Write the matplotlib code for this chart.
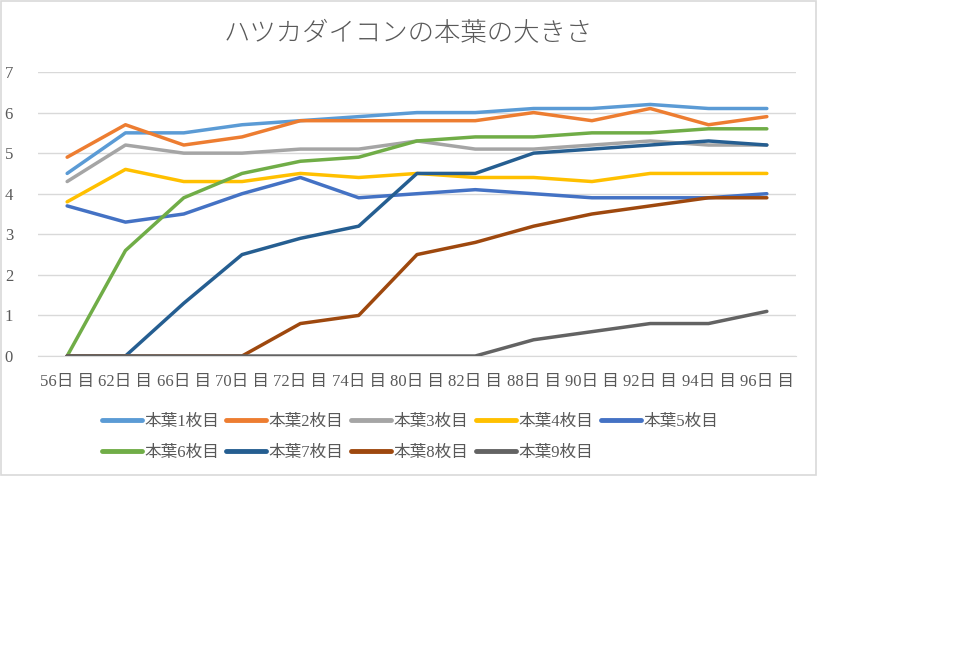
import matplotlib.pyplot as plt
from matplotlib.patches import Rectangle

plt.rcParams['font.family'] = ['Liberation Serif', 'Noto Sans CJK JP', 'DejaVu Sans']

days = ['56日 目', '62日 目', '66日 目', '70日 目', '72日 目', '74日 目', '80日 目',
        '82日 目', '88日 目', '90日 目', '92日 目', '94日 目', '96日 目']

leaf1 = [4.5, 5.5, 5.5, 5.7, 5.8, 5.9, 6.0, 6.0, 6.1, 6.1, 6.2, 6.1, 6.1]
leaf2 = [4.9, 5.7, 5.2, 5.4, 5.8, 5.8, 5.8, 5.8, 6.0, 5.8, 6.1, 5.7, 5.9]
leaf3 = [4.3, 5.2, 5.0, 5.0, 5.1, 5.1, 5.3, 5.1, 5.1, 5.2, 5.3, 5.2, 5.2]
leaf4 = [3.8, 4.6, 4.3, 4.3, 4.5, 4.4, 4.5, 4.4, 4.4, 4.3, 4.5, 4.5, 4.5]
leaf5 = [3.7, 3.3, 3.5, 4.0, 4.4, 3.9, 4.0, 4.1, 4.0, 3.9, 3.9, 3.9, 4.0]
leaf6 = [0, 2.6, 3.9, 4.5, 4.8, 4.9, 5.3, 5.4, 5.4, 5.5, 5.5, 5.6, 5.6]
leaf7 = [0, 0, 1.3, 2.5, 2.9, 3.2, 4.5, 4.5, 5.0, 5.1, 5.2, 5.3, 5.2]
leaf8 = [0, 0, 0, 0, 0.8, 1.0, 2.5, 2.8, 3.2, 3.5, 3.7, 3.9, 3.9]
leaf9 = [0, 0, 0, 0, 0, 0, 0, 0, 0.4, 0.6, 0.8, 0.8, 1.1]

series = [leaf1, leaf2, leaf3, leaf4, leaf5, leaf6, leaf7, leaf8, leaf9]
names = ['本葉1枚目', '本葉2枚目', '本葉3枚目', '本葉4枚目', '本葉5枚目',
         '本葉6枚目', '本葉7枚目', '本葉8枚目', '本葉9枚目']
colors = ['#5B9BD5', '#ED7D31', '#A5A5A5', '#FFC000', '#4472C4',
          '#70AD47', '#255E91', '#9E480E', '#636363']

W, H = 960, 648
fig = plt.figure(figsize=(9.6, 6.48), dpi=100)

# marco del gráfico
fig.patches.append(Rectangle((1 / W, 1 - 475 / H), 815 / W, 474 / H, transform=fig.transFigure,
                             fill=False, edgecolor='#D9D9D9', linewidth=1.2))

ax = fig.add_axes([38 / W, 1 - 356 / H, (796 - 38) / W, (356 - 72) / H])
x = list(range(len(days)))
lines = []
for ys, name, c in zip(series, names, colors):
    ln, = ax.plot(x, ys, color=c, linewidth=2.5, label=name, solid_capstyle='round', zorder=3)
    lines.append(ln)

ax.set_xlim(-0.5, len(days) - 0.5)
ax.set_ylim(0, 7)
ax.set_yticks(range(8))
ax.set_xticks(x)
ax.set_xticklabels(days)
ax.grid(axis='y', color='#D9D9D9', linewidth=1)
ax.set_axisbelow(True)
for s in ['top', 'right', 'left']:
    ax.spines[s].set_visible(False)
ax.spines['bottom'].set_color('#D9D9D9')
ax.tick_params(axis='both', length=0, colors='#595959', labelsize=12)
ax.tick_params(axis='y', pad=18)
ax.tick_params(axis='x', pad=13)

fig.text(408 / W, 1 - 33 / H, 'ハツカダイコンの本葉の大きさ', ha='center', va='center',
         fontsize=19, color='#595959', family=['Noto Sans CJK JP'], fontweight='light')

order = [0, 5, 1, 6, 2, 7, 3, 8, 4]
leg = fig.legend([lines[i] for i in order], [names[i] for i in order],
                 loc='upper center', bbox_to_anchor=(410 / W, 1 - 399 / H), ncol=5,
                 frameon=False, fontsize=12, handlelength=2.4, handletextpad=0.15,
                 columnspacing=0.45, labelspacing=0.9)
for t in leg.get_texts():
    t.set_color('#595959')
for h in leg.get_lines():
    h.set_linewidth(3.5)

fig.savefig('out.png', dpi=100, facecolor='white')
